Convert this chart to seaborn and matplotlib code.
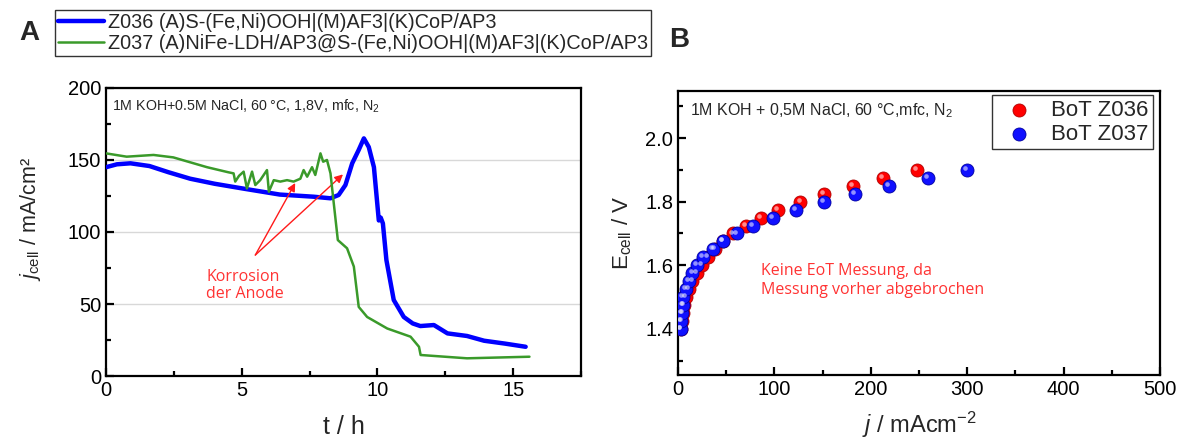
import numpy as np
import pandas as pd
import matplotlib
matplotlib.use("Agg")
import matplotlib.pyplot as plt
import matplotlib.transforms as mtransforms
from matplotlib.ticker import MultipleLocator
import seaborn as sns

# ---------------- data ----------------
# Panel A: chronoamperometry
t_z036 = [0.0, 0.4, 0.9, 1.6, 2.3, 3.1, 4.0, 5.1, 6.4, 7.65, 8.27, 8.57, 8.82, 9.07,
          9.31, 9.5, 9.68, 9.87, 10.05, 10.12, 10.2, 10.33, 10.6, 10.97, 11.3, 11.58,
          12.08, 12.58, 13.3, 13.93, 14.7, 15.46]
j_z036 = [145, 147, 147.7, 145.8, 141.5, 137, 133.5, 130, 126, 124.5, 123.4, 125.7,
          132.6, 147.7, 157, 165, 159, 145, 108, 110, 106, 80.5, 52.8, 41, 36.5, 34.7,
          35.4, 29.6, 27.8, 24.5, 22.5, 20.3]

t_z037 = [0.0, 0.76, 1.75, 2.48, 3.72, 4.5, 4.7, 4.76, 4.9, 5.07, 5.19, 5.38, 5.5,
          5.68, 5.93, 6.0, 6.18, 6.42, 6.67, 6.91, 7.16, 7.28, 7.41, 7.59, 7.71, 7.9,
          8.0, 8.14, 8.27, 8.39, 8.54, 8.88, 9.13, 9.31, 9.62, 10.36, 11.22, 11.53,
          11.59, 13.3, 15.6]
j_z037 = [154.6, 152.3, 153.5, 151.8, 145, 141.5, 140.7, 135, 139, 141.9, 130.3, 141.9,
          132.6, 136, 143, 128, 136, 135, 136, 135, 137, 143, 138.4, 145, 139.6, 154.6,
          148.8, 150, 140.7, 120, 94.4, 88.7, 76, 48, 41, 33, 27.3, 20.3, 14.6, 12.3, 13.4]

# Panel B: polarisation curves (BoT)
E_z036 = [1.40, 1.425, 1.45, 1.475, 1.50, 1.525, 1.55, 1.575, 1.60, 1.625, 1.65, 1.675,
          1.70, 1.725, 1.75, 1.775, 1.80, 1.825, 1.85, 1.875, 1.90]
i_z036 = [3, 4, 5, 6.5, 8.5, 11, 15, 20, 25, 31, 38, 47, 57, 70, 86, 104, 127, 151,
          181, 213, 248]
E_z037 = [1.40, 1.425, 1.45, 1.475, 1.50, 1.525, 1.55, 1.575, 1.60, 1.625, 1.65, 1.675,
          1.70, 1.725, 1.75, 1.775, 1.80, 1.825, 1.85, 1.875, 1.90]
i_z037 = [3, 3.5, 4, 5, 5.5, 8, 11, 15, 20, 26, 36, 47, 61, 78, 98, 122, 151, 184,
          219, 259, 300]

label_a1 = "Z036 (A)S-(Fe,Ni)OOH|(M)AF3|(K)CoP/AP3"
label_a2 = "Z037 (A)NiFe-LDH/AP3@S-(Fe,Ni)OOH|(M)AF3|(K)CoP/AP3"
label_b1 = "BoT Z036"
label_b2 = "BoT Z037"

# ---------------- style ----------------
sns.set_theme(style="ticks")
plt.rcParams["font.family"] = ["Liberation Sans", "DejaVu Sans"]
plt.rcParams["mathtext.fontset"] = "custom"
plt.rcParams["mathtext.rm"] = "Liberation Sans"
plt.rcParams["mathtext.it"] = "Liberation Sans:italic"
plt.rcParams["axes.linewidth"] = 1.6
plt.rcParams["axes.edgecolor"] = "black"

BLUE = "#0000ff"
GREEN = "#3a9a2a"
RED = "#ff1a1a"
ANN = "#ff3333"

fig = plt.figure(figsize=(11.86, 4.43), dpi=100)
axA = fig.add_axes([0.0894, 0.1512, 0.4005, 0.6502])
axB = fig.add_axes([0.5717, 0.1535, 0.4064, 0.6411])

# ---------------- panel A ----------------
dfA1 = pd.DataFrame({"t": t_z036, "j": j_z036})
dfA2 = pd.DataFrame({"t": t_z037, "j": j_z037})
sns.lineplot(data=dfA1, x="t", y="j", ax=axA, color=BLUE, lw=3.2, estimator=None,
             sort=False, label=label_a1, zorder=3)
sns.lineplot(data=dfA2, x="t", y="j", ax=axA, color=GREEN, lw=1.8, estimator=None,
             sort=False, label=label_a2, zorder=4)
axA.set_xlim(0, 17.5)
axA.set_ylim(0, 200)
axA.xaxis.set_major_locator(MultipleLocator(5))
axA.xaxis.set_minor_locator(MultipleLocator(2.5))
axA.yaxis.set_major_locator(MultipleLocator(50))
axA.yaxis.set_minor_locator(MultipleLocator(25))
axA.yaxis.grid(True, color="#d8d8d8", lw=1.0)
axA.set_axisbelow(True)
axA.tick_params(which="both", direction="in", top=False, right=False,
                labelsize=14.5, colors="black", width=1.6)
axA.tick_params(which="major", length=6)
axA.tick_params(which="minor", length=3.5)
axA.set_xlabel("t / h", fontsize=18, labelpad=11)
axA.set_ylabel("$j_{\\mathrm{cell}}$ / mA/cm²", fontsize=15.5)
axA.yaxis.set_label_coords(-0.133, 0.545)
axA.text(0.012, 0.965, "1M KOH+0.5M NaCl, 60 °C, 1,8V, mfc, N$_2$", transform=axA.transAxes,
         fontsize=10.3, va="top", ha="left")
axA.text(3.7, 63, "Korrosion\nder Anode", color=ANN, fontsize=11.5, family="Open Sans",
         ha="left", va="center", linespacing=1.1)
for tx, ty in [(6.97, 134), (8.73, 140)]:
    axA.annotate("", xy=(tx, ty), xytext=(5.5, 84),
                 arrowprops=dict(arrowstyle="-|>", color=RED, lw=1.0,
                                 mutation_scale=12, shrinkA=0, shrinkB=0))
hA, lA = axA.get_legend_handles_labels()
axA.get_legend().remove()
legA = fig.legend(hA, lA, loc="upper left", bbox_to_anchor=(55 / 1186, 1 - 10 / 443),
                  frameon=True, fontsize=14.3, handlelength=2.3, handletextpad=0.2,
                  borderpad=0.15, labelspacing=0.1, borderaxespad=0, fancybox=False)
legA.get_frame().set_edgecolor("black")
legA.get_frame().set_linewidth(1.0)

# ---------------- panel B ----------------
dfB1 = pd.DataFrame({"i": i_z036, "E": E_z036})
dfB2 = pd.DataFrame({"i": i_z037, "E": E_z037})
hl = mtransforms.ScaledTranslation(-1.4 / 72, 1.4 / 72, fig.dpi_scale_trans)
for df, col, lab, edge in [(dfB1, "#ff0000", label_b1, "#b00000"),
                           (dfB2, "#1010ff", label_b2, "#0000a0")]:
    sns.scatterplot(data=df, x="i", y="E", ax=axB, color=col, s=88, edgecolor=edge,
                    linewidth=0.6, label=lab, zorder=3)
    sns.scatterplot(data=df, x="i", y="E", ax=axB, color="white", s=11, alpha=0.55,
                    linewidth=0, transform=axB.transData + hl, zorder=4, legend=False)
axB.set_xlim(0, 500)
axB.set_ylim(1.255, 2.148)
axB.xaxis.set_major_locator(MultipleLocator(100))
axB.xaxis.set_minor_locator(MultipleLocator(50))
axB.yaxis.set_major_locator(MultipleLocator(0.2))
axB.yaxis.set_minor_locator(MultipleLocator(0.1))
axB.tick_params(which="both", direction="in", top=False, right=False,
                labelsize=14.5, colors="black", width=1.6)
axB.tick_params(which="major", length=6)
axB.tick_params(which="minor", length=3.5)
axB.set_yticks([1.4, 1.6, 1.8, 2.0])
axB.set_yticklabels(["1.4", "1.6", "1.8", "2.0"])
axB.set_xlabel("$j$ / mAcm$^{-2}$", fontsize=17, labelpad=8)
axB.set_ylabel("E$_{\\mathrm{cell}}$ / V", fontsize=16, labelpad=8)
axB.text(0.025, 0.965, "1M KOH + 0,5M NaCl, 60 °C,mfc, N$_2$", transform=axB.transAxes,
         fontsize=11.5, va="top", ha="left")
axB.text(86, 1.552, "Keine EoT Messung, da\nMessung vorher abgebrochen", color=ANN,
         fontsize=11.5, family="Open Sans", ha="left", va="center", linespacing=1.25)
legB = axB.legend(loc="upper right", bbox_to_anchor=(0.985, 0.985), fontsize=16,
                  frameon=True, fancybox=False, handletextpad=0.45, borderpad=0.2,
                  labelspacing=0.15, markerscale=1.0, borderaxespad=0)
legB.get_frame().set_edgecolor("black")
legB.get_frame().set_linewidth(1.0)

fig.text(29 / 1186, 1 - 33 / 443, "A", fontsize=20, fontweight="bold", ha="center",
         va="center")
fig.text(679 / 1186, 1 - 40 / 443, "B", fontsize=20, fontweight="bold", ha="center",
         va="center")

fig.savefig("out.png", dpi=100)
